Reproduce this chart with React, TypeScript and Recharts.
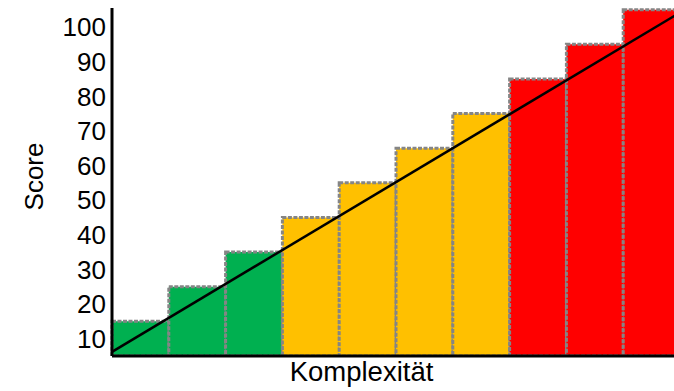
import React from "react";
import {
	Bar,
	BarChart,
	Cell,
	Label,
	ReferenceLine,
	XAxis,
	YAxis,
} from "recharts";

const categories = ["1", "2", "3", "4", "5", "6", "7", "8", "9", "10"];
const scores = [15, 25, 35, 45, 55, 65, 75, 85, 95, 105];
const levels = [
	"low",
	"low",
	"low",
	"mid",
	"mid",
	"mid",
	"mid",
	"high",
	"high",
	"high",
];
const yTicks = [10, 20, 30, 40, 50, 60, 70, 80, 90, 100];
// trend line values at the left and right edge of the plot
const trendValues = [6.2, 104.2];

const levelColors: Record<string, string> = {
	low: "#00B050",
	mid: "#FFC000",
	high: "#FF0000",
};

const data = categories.map((name, i) => ({
	name,
	pos: i + 0.5,
	score: scores[i],
	level: levels[i],
}));

const font = "'Liberation Sans', Arial, sans-serif";

export default function App() {
	return (
		<div
			style={{
				position: "absolute",
				left: 0,
				top: 0,
				width: 674,
				height: 391,
				overflow: "hidden",
				background: "#fff",
			}}
		>
			<BarChart
				width={680}
				height={391}
				data={data}
				margin={{ top: 8, right: 0, left: 0, bottom: 0 }}
				barCategoryGap={0}
				style={{ fontFamily: font }}
			>
				<Bar
					dataKey="score"
					stroke="#858585"
					strokeWidth={3}
					strokeDasharray="4 1.5"
					isAnimationActive={false}
				>
					{data.map((d) => (
						<Cell key={d.name} fill={levelColors[d.level]} />
					))}
				</Bar>
				<XAxis
					dataKey="name"
					tick={false}
					tickLine={false}
					stroke="#000"
					strokeWidth={3}
					height={35}
				>
					<Label
						content={() => (
							<text
								x={361.5}
								y={381}
								textAnchor="middle"
								fontSize={27.5}
								fill="#000"
								fontFamily={font}
							>
								Komplexität
							</text>
						)}
					/>
				</XAxis>
				<XAxis
					xAxisId="trend"
					dataKey="pos"
					type="number"
					domain={[0, 10]}
					allowDataOverflow
					hide
				/>
				<YAxis
					domain={[5, 105.5]}
					ticks={yTicks}
					interval={0}
					allowDataOverflow
					tickLine={false}
					tickSize={4}
					tickMargin={2}
					stroke="#000"
					strokeWidth={3}
					width={112}
					tick={{ fill: "#000", fontSize: 26, fontFamily: font }}
				>
					<Label
						content={() => (
							<text
								transform="translate(43,176.5) rotate(-90)"
								textAnchor="middle"
								fontSize={26}
								fill="#000"
								fontFamily={font}
							>
								Score
							</text>
						)}
					/>
				</YAxis>
				<ReferenceLine
					xAxisId="trend"
					segment={[
						{ x: 0, y: trendValues[0] },
						{ x: 10, y: trendValues[1] },
					]}
					stroke="#000"
					strokeWidth={2.5}
					ifOverflow="visible"
				/>
			</BarChart>
		</div>
	);
}
